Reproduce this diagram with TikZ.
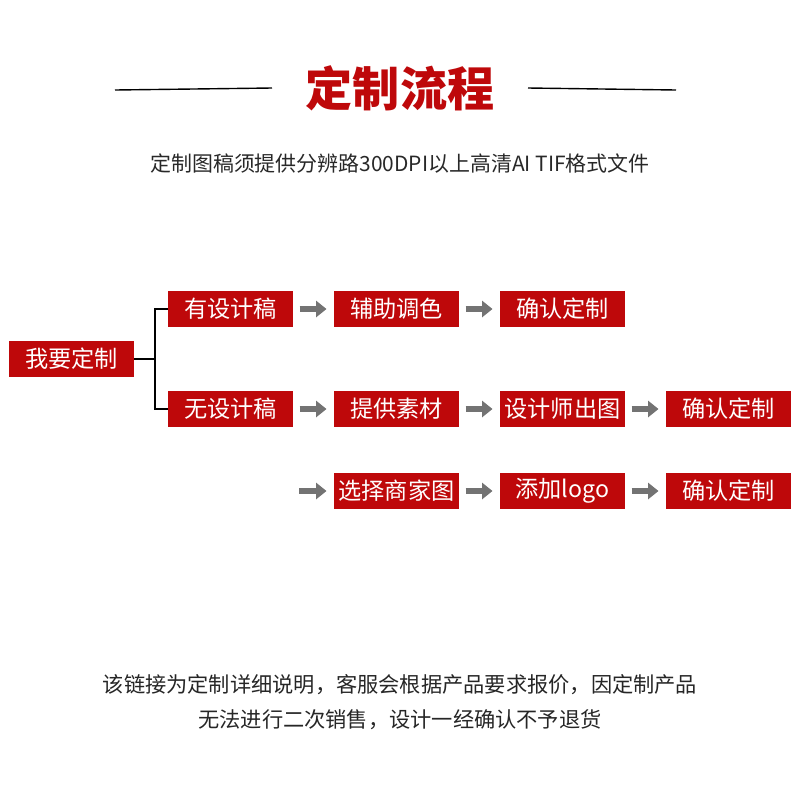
\documentclass[tikz,border=0pt]{standalone}
\usepackage{fontspec}
\setmainfont{Noto Sans CJK SC}
\newfontfamily\cjk{Noto Sans CJK SC}
\usetikzlibrary{arrows.meta, positioning}

\definecolor{flowred}{RGB}{190,8,10}
\definecolor{flowgray}{RGB}{115,115,115}
\definecolor{textgray}{RGB}{40,40,40}

\begin{document}
\begin{tikzpicture}[
    x=0.25mm, y=-0.25mm,
    font=\cjk,
    % 1. Core Shapes
    stepbox/.style={draw=none, fill=flowred, text=white, minimum width=31.25mm, minimum height=9mm, inner sep=0pt, font=\cjk\fontsize{16.5pt}{18pt}\selectfont},
    title/.style={text=flowred, font=\cjk\bfseries\fontsize{33.5pt}{36pt}\selectfont},
    note/.style={text=textgray, font=\cjk\fontsize{14.9pt}{17pt}\selectfont},
    % 2. Routing and Process Arrows
    arr/.style={line width=1.5mm, draw=flowgray, -{Triangle[length=2.6mm,width=4mm]}, shorten <=1.6mm, shorten >=1.8mm},
    tree/.style={draw=black, line width=0.35mm}
]
\useasboundingbox (0,0) rectangle (800,800);

% ===============================
% Heading
% ===============================
\node[title] (head) at (400,88) {定制流程};
\coordinate (hl1) at (115,90);
\coordinate (hl2) at (676,90);
\draw[tree] (hl1) -- (head.west -| 272,0);
\draw[tree] (head.east -| 528,0) -- (hl2);
\node[note] (sub) at (400,164) {定制图稿须提供分辨路300DPI以上高清AI TIF格式文件};

% ===============================
% Flow boxes
% ===============================
\node[stepbox] (want) at (71.5,359) {我要定制};

\node[stepbox] (has1) at (230.5,309) {有设计稿};
\node[stepbox] (col1) at (396.5,309) {辅助调色};
\node[stepbox] (ok1) at (562.5,309) {确认定制};

\node[stepbox] (non2) at (230.5,409) {无设计稿};
\node[stepbox] (mat2) at (396.5,409) {提供素材};
\node[stepbox] (des2) at (562.5,409) {设计师出图};
\node[stepbox] (ok2) at (728.5,409) {确认定制};

\node[stepbox] (pic3) at (396.5,491) {选择商家图};
\node[stepbox] (logo3) at (562.5,491) {添加logo};
\node[stepbox] (ok3) at (728.5,491) {确认定制};

% Branching from the start box
\coordinate (fork) at (155,359);
\draw[tree] (want.east) -- (fork);
\draw[tree] (fork) |- (has1.west);
\draw[tree] (fork) |- (non2.west);

% Process arrows
\draw[arr] (has1) -- (col1);
\draw[arr] (col1) -- (ok1);
\draw[arr] (non2) -- (mat2);
\draw[arr] (mat2) -- (des2);
\draw[arr] (des2) -- (ok2);
\coordinate (start3) at (293,491);
\draw[arr] (start3) -- (pic3);
\draw[arr] (pic3) -- (logo3);
\draw[arr] (logo3) -- (ok3);

% ===============================
% Footer notes
% ===============================
\node[note, font=\cjk\fontsize{15.1pt}{18pt}\selectfont, text=black!85] (foot1) at (400,685) {该链接为定制详细说明，客服会根据产品要求报价，因定制产品};
\node[note, font=\cjk\fontsize{15.1pt}{18pt}\selectfont, text=black!85] (foot2) at (400,720) {无法进行二次销售，设计一经确认不予退货};

\end{tikzpicture}
\end{document}
